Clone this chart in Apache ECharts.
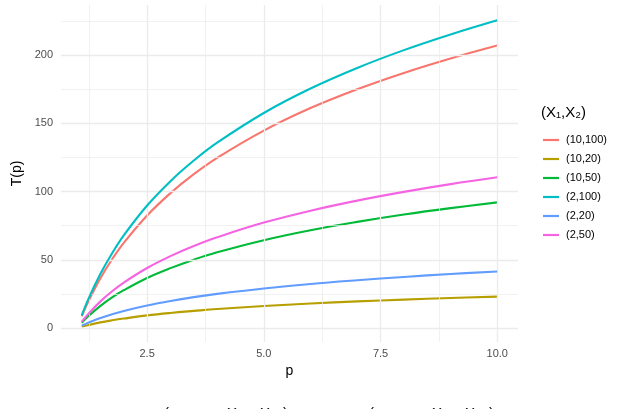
<!DOCTYPE html>
<html>
<head>
<meta charset="utf-8">
<script src="https://cdn.jsdelivr.net/npm/echarts@6/dist/echarts.min.js"></script>
<style>
  html, body { margin: 0; padding: 0; background: #fff; }
  #main { width: 618px; height: 409px; }
</style>
</head>
<body>
<div id="main"></div>
<script>
// values
var pValues = [1.1, 1.25, 1.5, 1.75, 2, 2.5, 3, 3.5, 4, 5, 6, 7, 8, 9, 10];

var groupNames = ["(10,100)", "(10,20)", "(10,50)", "(2,100)", "(2,20)", "(2,50)"];
var groupColors = ["#F8766D", "#B79F00", "#00BA38", "#00BFC4", "#619CFF", "#F564E3"];

var t_10_100 = [8.6, 20.1, 36.5, 50.4, 62.4, 82.5, 98.9, 112.8, 124.8, 144.8, 161.3, 175.1, 187.1, 197.7, 207.2];
var t_10_20  = [1.0, 2.2, 4.1, 5.6, 6.9, 9.2, 11.0, 12.5, 13.9, 16.1, 17.9, 19.5, 20.8, 22.0, 23.0];
var t_10_50  = [3.8, 8.9, 16.2, 22.4, 27.7, 36.7, 43.9, 50.1, 55.5, 64.4, 71.7, 77.8, 83.2, 87.9, 92.1];
var t_2_100  = [9.3, 21.9, 39.7, 54.8, 67.9, 89.8, 107.7, 122.8, 135.9, 157.7, 175.6, 190.7, 203.8, 215.3, 225.7];
var t_2_20   = [1.7, 4.0, 7.3, 10.1, 12.5, 16.5, 19.8, 22.6, 25.0, 29.0, 32.3, 35.0, 37.4, 39.6, 41.4];
var t_2_50   = [4.6, 10.7, 19.5, 26.9, 33.3, 44.0, 52.7, 60.1, 66.5, 77.3, 86.0, 93.4, 99.8, 105.5, 110.5];
var groupValues = [t_10_100, t_10_20, t_10_50, t_2_100, t_2_20, t_2_50];

// axis breaks (ggplot style major / minor)
var xMajor = [2.5, 5, 7.5, 10];
var xMinor = [1.25, 3.75, 6.25, 8.75];
var yMajor = [0, 50, 100, 150, 200];
var yMinor = [25, 75, 125, 175, 225];

var font = "Liberation Sans, Arial, sans-serif";
var gridColor = "#EBEBEB";

function pairs(xs, ys)
{
    var out = [];
    for (var i = 0; i < xs.length; i++) out.push([xs[i], ys[i]]);
    return out;
}

// grid lines go through the axes as mark lines
var gridLines = [];
for (var i = 0; i < xMinor.length; i++) gridLines.push({ xAxis: xMinor[i], lineStyle: { width: 0.7 } });
for (var i = 0; i < xMajor.length; i++) gridLines.push({ xAxis: xMajor[i], lineStyle: { width: 1.3 } });
for (var i = 0; i < yMinor.length; i++) gridLines.push({ yAxis: yMinor[i], lineStyle: { width: 0.7 } });
for (var i = 0; i < yMajor.length; i++) gridLines.push({ yAxis: yMajor[i], lineStyle: { width: 1.3 } });

var series = [{
    type: "line",
    data: [],
    silent: true,
    z: 1,
    markLine: {
        silent: true,
        symbol: "none",
        label: { show: false },
        animation: false,
        lineStyle: { color: gridColor, type: "solid" },
        data: gridLines
    }
}];

for (var g = 0; g < groupNames.length; g++)
{
    series.push({
        name: groupNames[g],
        type: "line",
        data: pairs(pValues, groupValues[g]),
        smooth: 0.4,
        symbol: "none",
        z: 2 + g,
        lineStyle: { color: groupColors[g], width: 2.1 },
        itemStyle: { color: groupColors[g] }
    });
}

var myChart = echarts.init(document.getElementById("main"), null, { renderer: "canvas" });

var option = {
    backgroundColor: "#fff",
    animation: false,
    grid: { left: 61, right: 100, top: 5, bottom: 67, containLabel: false },
    xAxis: {
        type: "value",
        min: 0.655,
        max: 10.445,
        name: "p",
        nameLocation: "middle",
        nameGap: 22,
        nameTextStyle: { fontFamily: font, fontSize: 14, color: "#000" },
        axisLine: { show: false },
        axisTick: { show: false },
        splitLine: { show: false },
        axisLabel: {
            customValues: xMajor,
            margin: 6,
            fontFamily: font,
            fontSize: 11,
            color: "#4D4D4D",
            formatter: function (v) { return v.toFixed(1); }
        }
    },
    yAxis: {
        type: "value",
        min: -10.3,
        max: 236.9,
        name: "T(p)",
        nameLocation: "middle",
        nameGap: 36,
        nameRotate: 90,
        nameTextStyle: { fontFamily: font, fontSize: 14, color: "#000" },
        axisLine: { show: false },
        axisTick: { show: false },
        splitLine: { show: false },
        axisLabel: {
            customValues: yMajor,
            margin: 8,
            fontFamily: font,
            fontSize: 11,
            color: "#4D4D4D"
        }
    },
    legend: {
        data: groupNames,
        orient: "vertical",
        left: 543,
        top: 133,
        padding: 0,
        icon: "rect",
        itemWidth: 16,
        itemHeight: 2.2,
        itemGap: 5,
        selectedMode: false,
        textStyle: { fontFamily: font, fontSize: 11, color: "#000", lineHeight: 14, padding: [0, 0, 0, 2] }
    },
    graphic: [
        { type: "text", left: 541, top: 105, style: { text: "(X\u2081,X\u2082)", font: "15px " + font, fill: "#000" } },
        // bottom caption, cut off by the edge of the picture
        { type: "text", left: 164, top: 406, style: { text: "(", font: "15px " + font, fill: "#000" } },
        { type: "text", left: 227, top: 406, style: { text: "X", font: "15px " + font, fill: "#000" } },
        { type: "text", left: 260, top: 406, style: { text: "X", font: "15px " + font, fill: "#000" } },
        { type: "text", left: 283, top: 406, style: { text: ")", font: "15px " + font, fill: "#000" } },
        { type: "text", left: 369, top: 406, style: { text: "(", font: "15px " + font, fill: "#000" } },
        { type: "text", left: 432, top: 406, style: { text: "X", font: "15px " + font, fill: "#000" } },
        { type: "text", left: 465, top: 406, style: { text: "X", font: "15px " + font, fill: "#000" } },
        { type: "text", left: 489, top: 406, style: { text: ")", font: "15px " + font, fill: "#000" } }
    ],
    series: series
};
myChart.setOption(option);
</script>
</body>
</html>
